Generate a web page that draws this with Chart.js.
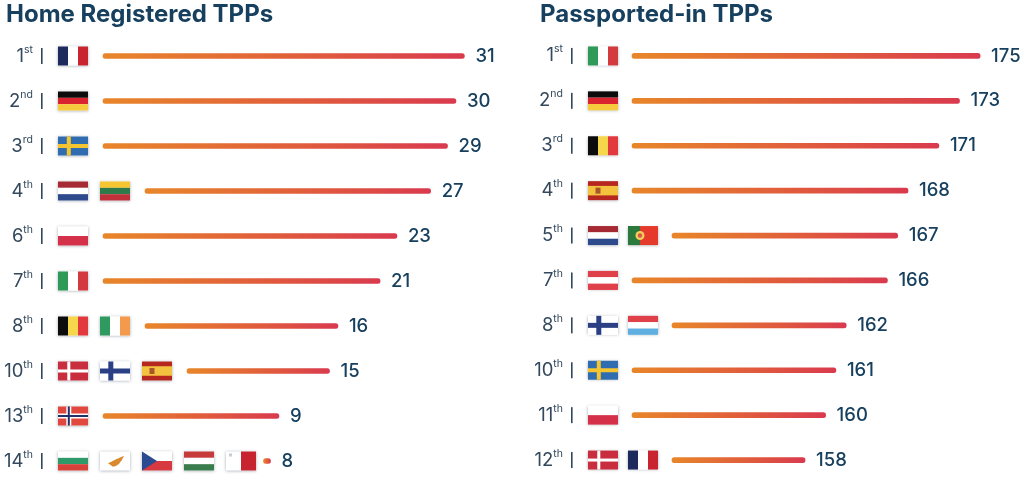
<!DOCTYPE html>
<html>
<head>
<meta charset="utf-8">
<script src="https://cdn.jsdelivr.net/npm/chart.js@4"></script>
<style>
    html, body { margin: 0; background: #fff; width: 1024px; height: 482px; overflow: hidden; }
    canvas { position: absolute; top: 0; }
    #homeChart { left: 0; }
    #passportChart { left: 512px; }
</style>
</head>
<body>
<canvas id="homeChart" width="512" height="500"></canvas>
<canvas id="passportChart" width="512" height="500"></canvas>
<script>
const homeRanks = ['1st', '2nd', '3rd', '4th', '6th', '7th', '8th', '10th', '13th', '14th'];
const homeValues = [31, 30, 29, 27, 23, 21, 16, 15, 9, 8];
const homeFlags = [['fr'], ['de'], ['se'], ['nl', 'lt'], ['pl'], ['it'], ['be', 'ie'], ['dk', 'fi', 'es'], ['no'], ['bg', 'cy', 'cz', 'hu', 'mt']];

const passportRanks = ['1st', '2nd', '3rd', '4th', '5th', '7th', '8th', '10th', '11th', '12th'];
const passportValues = [175, 173, 171, 168, 167, 166, 162, 161, 160, 158];
const passportFlags = [['it'], ['de'], ['be'], ['es'], ['nl', 'pt'], ['at'], ['fi', 'lu'], ['se'], ['pl'], ['dk', 'fr']];

const NAVY = '#17405f';
const SLATE = '#33485c';
const FONT = 'Inter, sans-serif';

// colour stripes for the simple flags
const stripes = {
    fr: ['v', '#1c2a5e', '#ffffff', '#c8242f'],
    de: ['h', '#0c0c0c', '#d9232e', '#f7c93c'],
    nl: ['h', '#a52a33', '#ffffff', '#2d4a8c'],
    lt: ['h', '#f5c631', '#2f7a4a', '#c0303a'],
    pl: ['h', '#ffffff', '#d4304a'],
    it: ['v', '#2f9a57', '#ffffff', '#d33a3f'],
    be: ['v', '#0c0c0c', '#f6d64a', '#e2393f'],
    ie: ['v', '#2e9a5f', '#ffffff', '#f39a4d'],
    bg: ['h', '#ffffff', '#2e9a6a', '#d8413a'],
    hu: ['h', '#c73a3a', '#ffffff', '#3a7d4d'],
    at: ['h', '#e0404a', '#ffffff', '#e0404a'],
    lu: ['h', '#e0404a', '#ffffff', '#5fb0e0']
};
// nordic crosses: field, cross colour, cross width, inner colour
const crosses = {
    se: ['#2f6db0', '#f4c531', 4],
    dk: ['#c82e3e', '#ffffff', 3],
    fi: ['#ffffff', '#2b3f85', 5],
    no: ['#e0483f', '#ffffff', 5, '#22306b']
};

function drawFlag(ctx, code, x, y, w, h) {
    ctx.save();
    ctx.shadowColor = 'rgba(40,50,70,0.4)';
    ctx.shadowBlur = 3;
    ctx.shadowOffsetY = 0.5;
    ctx.fillStyle = '#fff';
    ctx.fillRect(x, y, w, h);
    ctx.restore();

    if (stripes[code]) {
        const [dir, ...cols] = stripes[code];
        cols.forEach((c, i) => {
            ctx.fillStyle = c;
            if (dir === 'v') ctx.fillRect(x + w * i / cols.length, y, w / cols.length, h);
            else ctx.fillRect(x, y + h * i / cols.length, w, h / cols.length);
        });
    } else if (crosses[code]) {
        const [field, cross, t, inner] = crosses[code];
        ctx.fillStyle = field;
        ctx.fillRect(x, y, w, h);
        ctx.fillStyle = cross;
        ctx.fillRect(x + w * 0.36 - t / 2, y, t, h);
        ctx.fillRect(x, y + h / 2 - t / 2, w, t);
        if (inner) {
            ctx.fillStyle = inner;
            ctx.fillRect(x + w * 0.36 - 1, y, 2, h);
            ctx.fillRect(x, y + h / 2 - 1, w, 2);
        }
    } else if (code === 'es') {
        ctx.fillStyle = '#b5271f';
        ctx.fillRect(x, y, w, h);
        ctx.fillStyle = '#f3c33f';
        ctx.fillRect(x, y + h / 4, w, h / 2);
        ctx.fillStyle = '#a8552a';
        ctx.fillRect(x + 7.5, y + h / 2 - 3, 5, 6);
    } else if (code === 'pt') {
        ctx.fillStyle = '#e53a2b';
        ctx.fillRect(x, y, w, h);
        ctx.fillStyle = '#2b7a3c';
        ctx.fillRect(x, y, w * 0.4, h);
        ctx.fillStyle = '#f2cf5a';
        ctx.beginPath();
        ctx.arc(x + w * 0.4, y + h / 2, 4.5, 0, Math.PI * 2);
        ctx.fill();
        ctx.fillStyle = '#d9564a';
        ctx.beginPath();
        ctx.arc(x + w * 0.4, y + h / 2, 2.2, 0, Math.PI * 2);
        ctx.fill();
    } else if (code === 'cz') {
        ctx.fillStyle = '#ffffff';
        ctx.fillRect(x, y, w, h / 2);
        ctx.fillStyle = '#d6393f';
        ctx.fillRect(x, y + h / 2, w, h / 2);
        ctx.fillStyle = '#2b4a8f';
        ctx.beginPath();
        ctx.moveTo(x, y);
        ctx.lineTo(x + w * 0.5, y + h / 2);
        ctx.lineTo(x, y + h);
        ctx.fill();
    } else if (code === 'mt') {
        ctx.fillStyle = '#c8242f';
        ctx.fillRect(x + w / 2, y, w / 2, h);
        ctx.fillStyle = '#c9ccd2';
        ctx.fillRect(x + 3, y + 2, 3, 3);
    } else if (code === 'cy') {
        ctx.fillStyle = '#d98a2e';
        ctx.beginPath();
        ctx.moveTo(x + 8, y + h * 0.62);
        ctx.quadraticCurveTo(x + 14, y + h * 0.45, x + 24, y + h * 0.22);
        ctx.quadraticCurveTo(x + 20, y + h * 0.75, x + 13, y + h * 0.8);
        ctx.closePath();
        ctx.fill();
    }
}

// rank labels with superscript, flags and the value at the end of each bar
const rowDecor = {
    id: 'rowDecor',
    afterDatasetsDraw(chart, args, opts) {
        const { ctx, scales: { x, y } } = chart;
        const values = chart.data.datasets[0].values;
        ctx.save();
        chart.data.labels.forEach((rank, i) => {
            const cy = y.getPixelForValue(i);
            const [, num, suffix] = rank.match(/^(\d+)(\D+)$/);

            ctx.fillStyle = SLATE;
            ctx.textBaseline = 'alphabetic';
            ctx.textAlign = 'right';
            ctx.font = '10.5px ' + FONT;
            const sufWidth = ctx.measureText(suffix).width;
            ctx.fillText(suffix, opts.rankRight, cy - 3.5);
            ctx.font = '18.5px ' + FONT;
            ctx.fillText(num, opts.rankRight - sufWidth, cy + 5.5);

            ctx.fillStyle = SLATE;
            ctx.fillRect(opts.rankRight + 8, cy - 8, 1.6, 16);

            opts.flags[i].forEach((code, f) => {
                drawFlag(ctx, code, opts.flagLeft + f * opts.flagStep, cy - 9.5, 30, 19);
            });

            ctx.fillStyle = NAVY;
            ctx.textAlign = 'left';
            ctx.textBaseline = 'middle';
            ctx.font = '500 18.5px ' + FONT;
            ctx.fillText(String(values[i]), x.getPixelForValue(values[i]) + 11, cy);
        });
        ctx.restore();
    }
};

function barGradient(context) {
    const { chart, raw } = context;
    if (!chart.chartArea || !raw) return '#e0603a';
    const xs = chart.scales.x;
    const g = chart.ctx.createLinearGradient(xs.getPixelForValue(raw[0]), 0, xs.getPixelForValue(raw[1]), 0);
    g.addColorStop(0, '#e8862a');
    g.addColorStop(0.6, '#e05a3d');
    g.addColorStop(1, '#d93a4e');
    return g;
}

function makePanel(id, cfg) {
    // bars begin just right of the last flag, so the start depends on the flag count
    const unitsPerPx = (cfg.xMax - cfg.xMin) / (512 - cfg.padLeft);
    const toValue = px => cfg.xMin + (px - cfg.padLeft) * unitsPerPx;
    const rows = cfg.values.map((v, i) => {
        const start = toValue(cfg.flagLeft + cfg.flags[i].length * cfg.flagStep + cfg.barGap);
        return [Math.min(start, v - 7 * unitsPerPx), v];
    });

    new Chart(document.getElementById(id), {
        type: 'bar',
        data: {
            labels: cfg.ranks,
            datasets: [{
                data: rows,
                values: cfg.values,
                backgroundColor: barGradient,
                barThickness: 5,
                borderRadius: 3,
                borderSkipped: false
            }]
        },
        options: {
            indexAxis: 'y',
            responsive: false,
            animation: false,
            layout: { padding: { left: cfg.padLeft, bottom: cfg.padBottom } },
            scales: {
                x: { display: false, min: cfg.xMin, max: cfg.xMax },
                y: { display: false }
            },
            plugins: {
                legend: { display: false },
                tooltip: { enabled: false },
                title: {
                    display: true,
                    text: cfg.title,
                    align: 'start',
                    color: NAVY,
                    font: { family: FONT, size: 24, weight: '700', lineHeight: 1.2 },
                    padding: { top: 0, bottom: 4.7 }
                },
                rowDecor: { rankRight: cfg.rankRight, flagLeft: cfg.flagLeft, flagStep: cfg.flagStep, flags: cfg.flags }
            }
        },
        plugins: [rowDecor]
    });
}

makePanel('homeChart', {
    title: 'Home Registered TPPs',
    ranks: homeRanks, values: homeValues, flags: homeFlags,
    xMin: -23.38, xMax: 36.65,
    padLeft: 6, padBottom: 16.5,
    rankRight: 33, flagLeft: 58, flagStep: 42, barGap: 3
});

makePanel('passportChart', {
    title: 'Passported-in TPPs',
    ranks: passportRanks, values: passportValues, flags: passportFlags,
    xMin: 132.27, xMax: 179.26,
    padLeft: 28, padBottom: 17.5,
    rankRight: 51, flagLeft: 76, flagStep: 40, barGap: 4
});
</script>
</body>
</html>
